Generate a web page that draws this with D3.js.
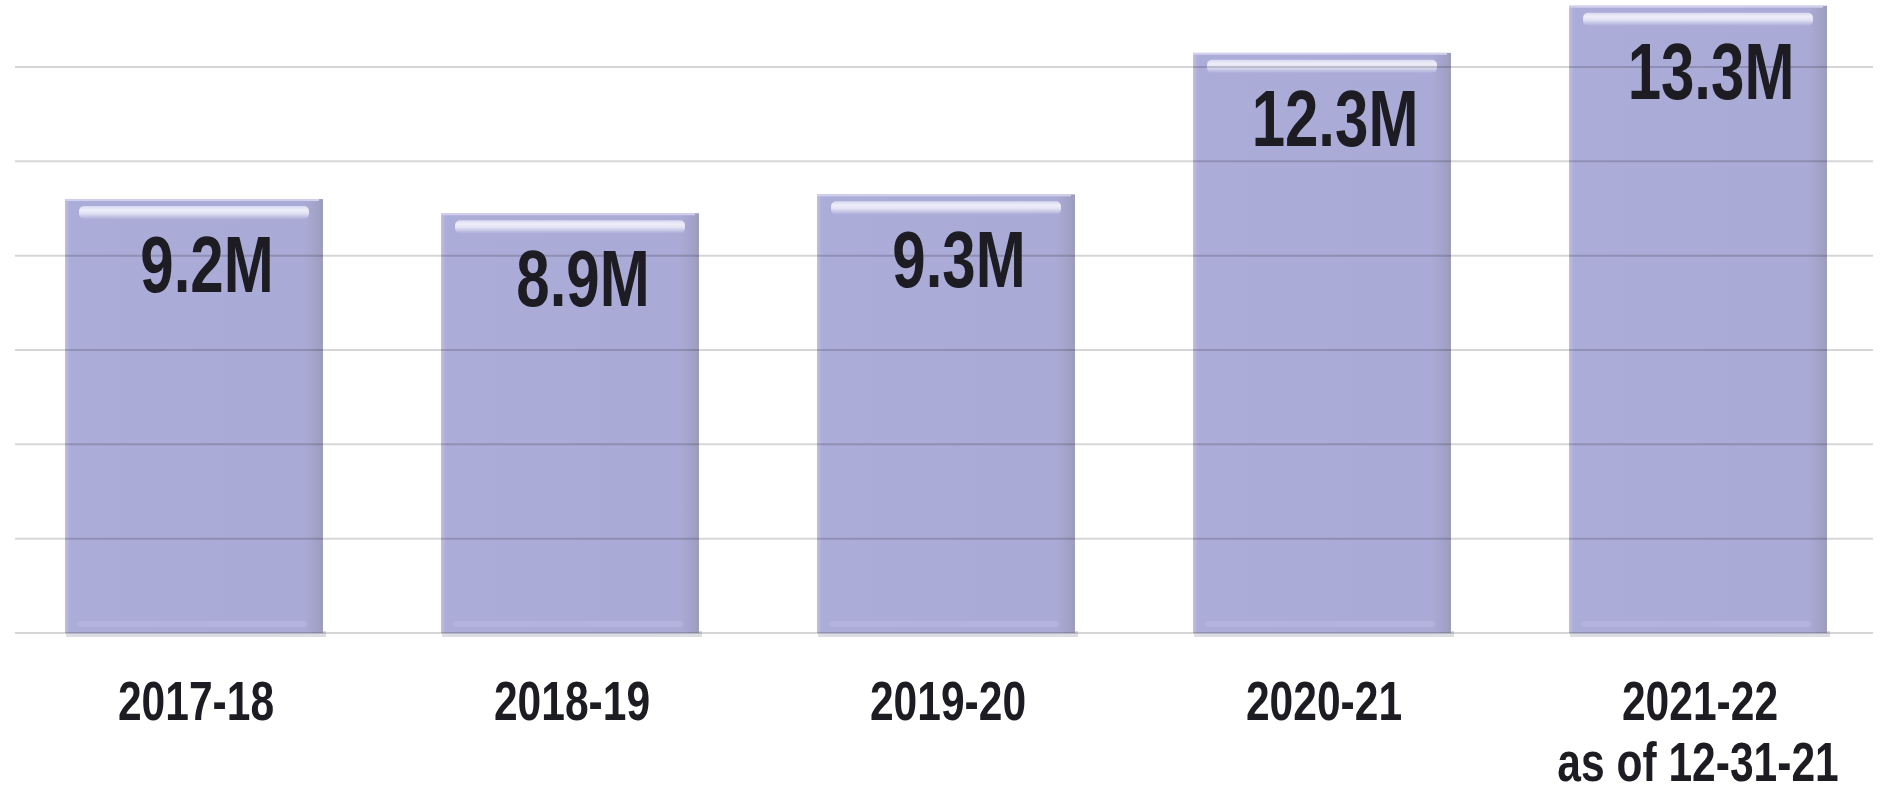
<!DOCTYPE html>
<html>
<head>
<meta charset="utf-8">
<script src="https://cdn.jsdelivr.net/npm/d3@7"></script>
<style>
  html, body { margin: 0; padding: 0; background: #ffffff; }
  svg { display: block; }
  text { font-family: "Liberation Sans", Arial, sans-serif; }
</style>
</head>
<body>
<svg id="chart" width="1887" height="788"></svg>
<script>
// ---- data ----
const categories = ["2017-18", "2018-19", "2019-20", "2020-21", "2021-22"];
const subLabels = ["", "", "", "", "as of 12-31-21"];
const values = [9.2, 8.9, 9.3, 12.3, 13.3];          // millions
const valueLabels = ["9.2M", "8.9M", "9.3M", "12.3M", "13.3M"];
const gridTicks = [0, 2, 4, 6, 8, 10, 12];

// ---- layout ----
const svg = d3.select("#chart");

const x = d3.scaleBand()
  .domain(categories)
  .range([6, 1886])
  .paddingInner(0.314)
  .paddingOuter(0.157);

const y = d3.scaleLinear()
  .domain([0, 12])
  .range([633, 67]);

// defs: gradients
const defs = svg.append("defs");
const g1 = defs.append("linearGradient").attr("id", "barFill")
  .attr("x1", "0").attr("x2", "1").attr("y1", "0").attr("y2", "0");
g1.append("stop").attr("offset", "0").attr("stop-color", "#bdbde2");
g1.append("stop").attr("offset", "0.02").attr("stop-color", "#acacd9");
g1.append("stop").attr("offset", "0.93").attr("stop-color", "#aaaad6");
g1.append("stop").attr("offset", "0.975").attr("stop-color", "#a2a2c8");
g1.append("stop").attr("offset", "1").attr("stop-color", "#9c9cb8");

const g2 = defs.append("linearGradient").attr("id", "hiFill")
  .attr("x1", "0").attr("x2", "0").attr("y1", "0").attr("y2", "1");
g2.append("stop").attr("offset", "0").attr("stop-color", "#d8d8f0");
g2.append("stop").attr("offset", "0.3").attr("stop-color", "#eeeefa");
g2.append("stop").attr("offset", "0.55").attr("stop-color", "#e2e2f5");
g2.append("stop").attr("offset", "1").attr("stop-color", "#aeaed9");

// ---- bars ----
const bars = svg.append("g").attr("class", "bars");
const bw = x.bandwidth();

// soft shadow below bars
bars.selectAll("rect.shadow").data(categories).join("rect")
  .attr("class", "shadow")
  .attr("x", d => x(d) + 1)
  .attr("y", y(0) - 2)
  .attr("width", bw + 2)
  .attr("height", 6)
  .attr("fill", "#dcdce4");

bars.selectAll("rect.bar").data(values).join("rect")
  .attr("class", "bar")
  .attr("x", (d, i) => x(categories[i]))
  .attr("y", d => y(d))
  .attr("width", bw)
  .attr("height", d => y(0) - y(d))
  .attr("fill", "url(#barFill)");

// top light edge
bars.selectAll("rect.topedge").data(values).join("rect")
  .attr("class", "topedge")
  .attr("x", (d, i) => x(categories[i]))
  .attr("y", d => y(d))
  .attr("width", bw - 4)
  .attr("height", 2)
  .attr("fill", "#d0d0ec");

// top highlight strip
bars.selectAll("rect.hi").data(values).join("rect")
  .attr("class", "hi")
  .attr("x", (d, i) => x(categories[i]) + 14)
  .attr("y", d => y(d) + 7)
  .attr("width", bw - 28)
  .attr("height", 13)
  .attr("rx", 5)
  .attr("fill", "url(#hiFill)");

// bottom lighter strip
bars.selectAll("rect.bot").data(values).join("rect")
  .attr("class", "bot")
  .attr("x", (d, i) => x(categories[i]) + 12)
  .attr("y", y(0) - 12)
  .attr("width", bw - 28)
  .attr("height", 6)
  .attr("rx", 3)
  .attr("fill", "#b3b3de");

// ---- gridlines (drawn over bars, semi-transparent) ----
svg.append("g").attr("class", "grid")
  .selectAll("line").data(gridTicks).join("line")
  .attr("x1", 15).attr("x2", 1873)
  .attr("y1", d => y(d)).attr("y2", d => y(d))
  .attr("stroke", "#000")
  .attr("stroke-opacity", 0.16)
  .attr("stroke-width", 2);

// ---- value labels ----
svg.append("g").attr("class", "values")
  .selectAll("text").data(values).join("text")
  .attr("transform", (d, i) =>
    `translate(${x(categories[i]) + bw / 2 + 13},${y(d) + 93}) scale(0.75,1)`)
  .attr("text-anchor", "middle")
  .attr("font-size", 80)
  .attr("font-weight", "bold")
  .attr("fill", "#1c1c22")
  .text((d, i) => valueLabels[i]);

// ---- category labels ----
const cat = svg.append("g").attr("class", "cats");
cat.selectAll("text.c").data(categories).join("text")
  .attr("class", "c")
  .attr("transform", d => `translate(${x(d) + bw / 2 + 2},720) scale(0.76,1)`)
  .attr("text-anchor", "middle")
  .attr("font-size", 56)
  .attr("font-weight", "bold")
  .attr("fill", "#1c1c22")
  .text(d => d);

cat.selectAll("text.s").data(subLabels.filter(s => s)).join("text")
  .attr("class", "s")
  .attr("transform", d => `translate(${x(categories[subLabels.indexOf(d)]) + bw / 2},781) scale(0.76,1)`)
  .attr("text-anchor", "middle")
  .attr("font-size", 56)
  .attr("font-weight", "bold")
  .attr("fill", "#1c1c22")
  .text(d => d);
</script>
</body>
</html>
